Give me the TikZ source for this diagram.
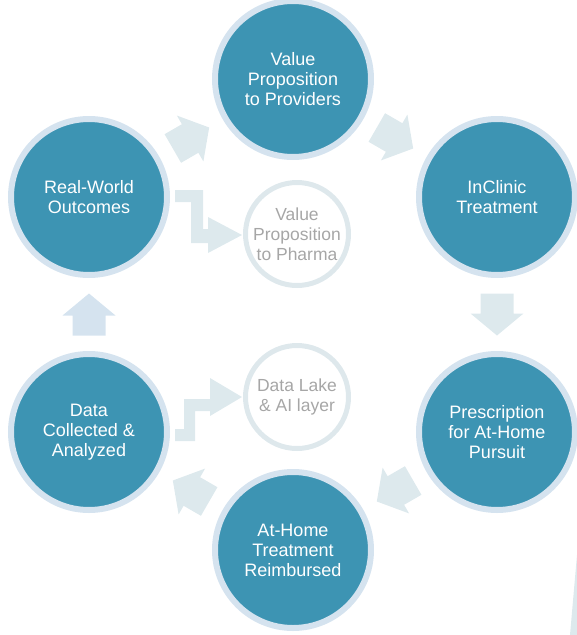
\documentclass[tikz,border=0pt]{standalone}
\usepackage{fontspec}
\setmainfont{Liberation Sans}
\usetikzlibrary{calc}

\definecolor{cycleblue}{HTML}{3D94B3}
\definecolor{ringblue}{HTML}{D5E3EF}
\definecolor{arrowgray}{HTML}{DDE9ED}
\definecolor{layergray}{HTML}{DEE8EC}
\definecolor{layertext}{HTML}{A6A6A6}

\tikzset{
  stage/.style={circle, fill=cycleblue, draw=ringblue, line width=6pt,
    minimum size=156pt, inner sep=0pt, text=white, align=center,
    font=\fontsize{18}{20}\selectfont},
  layer/.style={circle, draw=layergray, line width=5pt, minimum size=103pt,
    inner sep=0pt, text=layertext, align=center,
    font=\fontsize{17.5}{20}\selectfont},
  blockarrow/.pic={
    \fill[#1] (-21,-16.5) -- (-1,-16.5) -- (-1,-26.5) -- (21,0)
      -- (-1,26.5) -- (-1,16.5) -- (-21,16.5) -- cycle;}
}

\begin{document}
\begin{tikzpicture}[x=1pt,y=-1pt]
    \useasboundingbox (0,0) rectangle (577,635);

    % the cycle
    \node[stage] (prov)   at (293,79)  {Value\\Proposition\\to Providers};
    \node[stage] (clinic) at (497,197) {InClinic\\Treatment};
    \node[stage] (presc)  at (497,432) {Prescription\\for At-Home\\Pursuit};
    \node[stage] (home)   at (293,550) {At-Home\\Treatment\\Reimbursed};
    \node[stage] (data)   at (89,432)  {Data\\Collected \&\\Analyzed};
    \node[stage] (world)  at (89,197)  {Real-World\\Outcomes};

    % inner layers
    \node[layer] (pharma) at (297,234) {Value\\Proposition\\to Pharma};
    \node[layer] (lake)   at (297,397) {Data Lake\\\& AI layer};

    % arrows between stages
    \pic[rotate=-30]  at ($(prov)!0.5!(clinic)$)  {blockarrow=arrowgray};
    \pic[rotate=-90]  at ($(clinic)!0.5!(presc)$) {blockarrow=arrowgray};
    \pic[rotate=-150] at ($(presc)!0.5!(home)$)   {blockarrow=arrowgray};
    \pic[rotate=150]  at ($(home)!0.5!(data)$)    {blockarrow=arrowgray};
    \pic[rotate=90]   at ($(data)!0.5!(world)$)   {blockarrow=ringblue};
    \pic[rotate=30]   at ($(world)!0.5!(prov)$)   {blockarrow=arrowgray};

    % bent arrows into the layers
    \fill[arrowgray] (175,190) -- (203,190) -- (203,229) -- (208,229)
        -- (208,217) -- (242,235) -- (208,253) -- (208,243) -- (191,243)
        -- (191,202) -- (175,202) -- cycle;
    \fill[arrowgray] (175,441) -- (195,441) -- (195,411) -- (210,411)
        -- (210,416) -- (242,397) -- (210,378) -- (210,399) -- (184,399)
        -- (184,429) -- (175,429) -- cycle;

    \fill[arrowgray] (577,555) -- (577,635) -- (570,635) -- cycle;
\end{tikzpicture}
\end{document}
